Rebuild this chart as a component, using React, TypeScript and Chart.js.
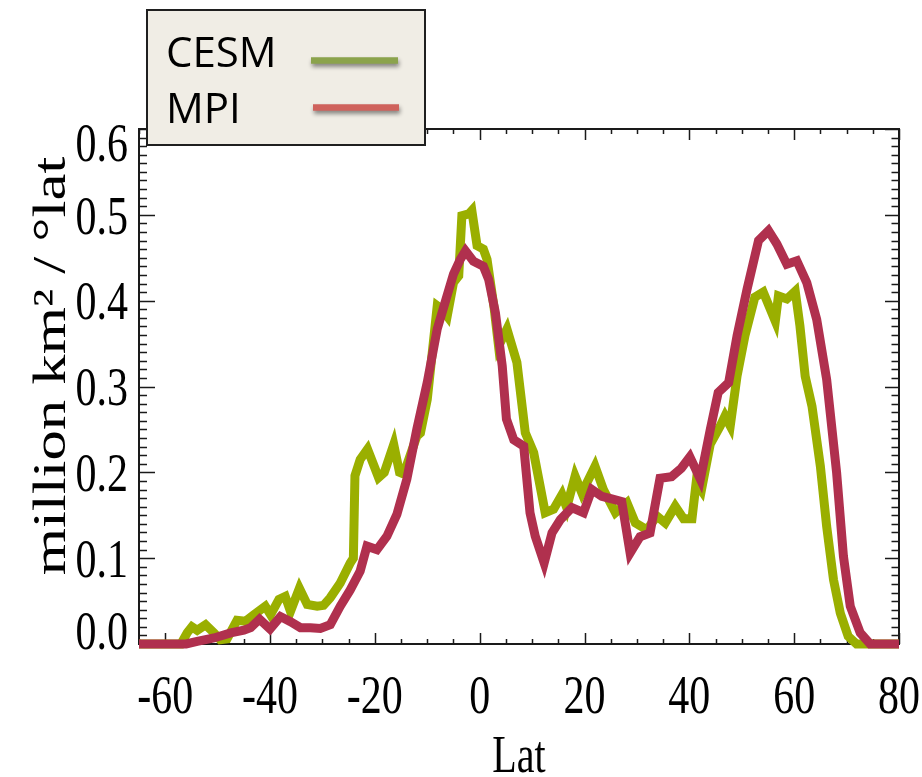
import React, { useEffect, useRef } from "react";
import { Chart, registerables } from "chart.js";

Chart.register(...registerables);

// ---------- data ----------
const seriesNames = ["CESM", "MPI"];

const cesmLat = [
  -65, -57, -55.8, -54.9, -53.9, -52.3, -50.7, -49.5, -48.2, -46.3, -44.7, -43.1, -40.9, -39.9,
  -38.3, -37.1, -36.1, -34.4, -32.9, -31, -29.8, -28.5, -26.6, -24.7, -24.1, -23.8, -22.8, -21.4,
  -19.3, -18.2, -16.4, -15.3, -14.5, -12, -11.3, -10, -8.1, -7.2, -6.2, -5, -4, -3.4, -2.1, -1.5,
  -0.5, 0.7, 1.4, 2.7, 3.6, 5.2, 7.1, 8.7, 10.3, 12.5, 14.1, 15.7, 16.6, 18.2, 19.5, 22, 23.6,
  25.9, 28.1, 29.7, 31.9, 33.8, 35.4, 37.3, 38.9, 40.5, 41.3, 42.3, 44, 45.9, 46.8, 47.8, 49.1,
  50.6, 52.5, 54.1, 56.4, 57, 58.6, 60.2, 61.1, 62.1, 63.4, 65, 66.2, 67.5, 68.8, 70.3, 71.9, 80,
];
const cesmVal = [
  0, 0, 0.013, 0.02, 0.016, 0.0225, 0.013, 0.005, 0.006, 0.0275, 0.0265, 0.034, 0.044, 0.034,
  0.052, 0.0555, 0.038, 0.065, 0.046, 0.044, 0.045, 0.054, 0.071, 0.0945, 0.1, 0.196, 0.215, 0.227,
  0.194, 0.2, 0.2325, 0.2, 0.198, 0.242, 0.246, 0.285, 0.394, 0.39, 0.382, 0.421, 0.429, 0.499,
  0.501, 0.505, 0.464, 0.46, 0.448, 0.394, 0.347, 0.367, 0.328, 0.246, 0.223, 0.153, 0.157, 0.174,
  0.159, 0.1955, 0.176, 0.207, 0.18, 0.153, 0.1645, 0.141, 0.133, 0.149, 0.141, 0.1605, 0.146,
  0.146, 0.188, 0.179, 0.233, 0.254, 0.2655, 0.254, 0.312, 0.359, 0.404, 0.41, 0.376, 0.4055,
  0.402, 0.411, 0.3705, 0.312, 0.277, 0.207, 0.137, 0.075, 0.036, 0.009, 0, 0,
];

const mpiLat = [
  -65, -56, -53.9, -50.7, -47.5, -45, -43.7, -42, -40, -38, -36.1, -34.2, -32.3, -30.4, -28.5,
  -26.6, -24.7, -22.8, -21.5, -19.6, -17.7, -15.8, -13.9, -12, -10, -8.1, -6.6, -5, -3.7, -2.7,
  -1.2, 0.7, 1.7, 3, 4.3, 5.1, 6.5, 8.4, 9.6, 10.6, 12.3, 13.8, 15.4, 17.6, 19.8, 21.4, 23.3,
  25.2, 27.1, 28.7, 30.6, 32.5, 34.4, 36.6, 38.5, 40.1, 42.1, 44, 45.5, 47.5, 49.1, 51, 53.2,
  55.1, 56.7, 58.6, 60.5, 62.4, 64.3, 66.2, 68.1, 69.4, 70.7, 72.6, 74.5, 80,
];
const mpiVal = [
  0, 0, 0.003, 0.007, 0.013, 0.016, 0.019, 0.029, 0.0175, 0.032, 0.026, 0.019, 0.019, 0.018,
  0.0225, 0.044, 0.063, 0.085, 0.114, 0.11, 0.1255, 0.151, 0.192, 0.25, 0.305, 0.367, 0.398,
  0.431, 0.448, 0.458, 0.446, 0.44, 0.425, 0.386, 0.324, 0.262, 0.238, 0.2305, 0.153, 0.1255,
  0.0945, 0.1295, 0.145, 0.159, 0.153, 0.18, 0.172, 0.169, 0.166, 0.106, 0.125, 0.1295, 0.193,
  0.195, 0.205, 0.218, 0.192, 0.25, 0.293, 0.3045, 0.359, 0.413, 0.47, 0.4815, 0.466, 0.4425,
  0.4465, 0.421, 0.378, 0.308, 0.1995, 0.102, 0.044, 0.013, 0, 0,
];

const xTickValues = [-60, -40, -20, 0, 20, 40, 60, 80];
const yTickValues = [0, 0.1, 0.2, 0.3, 0.4, 0.5, 0.6];
const xTitle = "Lat";
const yTitle = "million km\u00B2 / \u00B0lat";

// ---------- styling ----------
const CESM_COLOR = "#9aaf00";
const MPI_COLOR = "#b0304e";
const LEGEND_CESM = "#8ba34c";
const LEGEND_MPI = "#cf625c";
const SERIF = '"Liberation Serif", "Times New Roman", serif';
const STRETCH = 1.32;

const customPlugin = {
  id: "customAxes",
  beforeDatasetsDraw(chart: any) {
    const { ctx, chartArea: a, scales } = chart;
    const x = scales.x;
    const y = scales.y;
    ctx.save();
    ctx.strokeStyle = "#1a1a1a";
    ctx.lineWidth = 1.5;
    ctx.beginPath();
    for (let i = 0; i <= 60; i++) {
      const py = Math.round(y.getPixelForValue(i / 100)) + 0.5;
      const major = i % 10 === 0;
      const ll = major ? 16 : 8;
      const lr = major ? 14 : 7.5;
      ctx.moveTo(a.left, py);
      ctx.lineTo(a.left + ll, py);
      ctx.moveTo(a.right, py);
      ctx.lineTo(a.right - lr, py);
    }
    for (let v = -65; v <= 80; v += 5) {
      const px = Math.round(x.getPixelForValue(v)) + 0.5;
      const major = v % 20 === 0;
      const l = major ? 11 : 5;
      ctx.moveTo(px, a.bottom);
      ctx.lineTo(px, a.bottom - l);
      ctx.moveTo(px, a.top);
      ctx.lineTo(px, a.top + l);
    }
    ctx.stroke();
    ctx.lineWidth = 2;
    ctx.strokeRect(a.left, a.top, a.right - a.left, a.bottom - a.top);
    ctx.restore();
  },
  afterDraw(chart: any) {
    const { ctx, chartArea: a, scales } = chart;
    const x = scales.x;
    const y = scales.y;
    ctx.save();
    ctx.fillStyle = "#000";
    // y tick labels
    ctx.font = `42px ${SERIF}`;
    ctx.textAlign = "right";
    ctx.textBaseline = "alphabetic";
    const digitH = 0.676 * 42 * STRETCH;
    for (const v of yTickValues) {
      let cy = y.getPixelForValue(v);
      cy = Math.max(a.top + 13.5, Math.min(a.bottom - 13.5, cy));
      ctx.save();
      ctx.translate(128, cy + digitH / 2);
      ctx.scale(1, STRETCH);
      ctx.fillText(v.toFixed(1), 0, 0);
      ctx.restore();
    }
    // x tick labels
    ctx.textAlign = "center";
    for (const v of xTickValues) {
      ctx.save();
      ctx.translate(x.getPixelForValue(v), 713);
      ctx.scale(1, STRETCH);
      ctx.fillText(String(v), 0, 0);
      ctx.restore();
    }
    // x title
    ctx.font = `40px ${SERIF}`;
    ctx.save();
    ctx.translate((a.left + a.right) / 2, 772);
    ctx.scale(1, STRETCH);
    ctx.fillText(xTitle, 0, 0);
    ctx.restore();
    // y title
    ctx.font = `46px ${SERIF}`;
    ctx.save();
    ctx.translate(65, 366);
    ctx.rotate(-Math.PI / 2);
    ctx.scale(STRETCH, 1);
    ctx.fillText(yTitle, 0, 0);
    ctx.restore();

    // legend box
    ctx.fillStyle = "#f0ede5";
    ctx.fillRect(147, 10, 278, 135);
    ctx.strokeStyle = "#1f1f1f";
    ctx.lineWidth = 2;
    ctx.strokeRect(147, 10, 278, 135);
    ctx.fillStyle = "#000";
    ctx.textAlign = "left";
    ctx.font = `42px "Open Sans", "Noto Sans", sans-serif`;
    ctx.fillText(seriesNames[0], 166, 66.5);
    ctx.fillText(seriesNames[1], 166, 122.5);
    const legendLine = (x0: number, x1: number, yy: number, color: string) => {
      ctx.save();
      ctx.shadowColor = "rgba(0,0,0,0.45)";
      ctx.shadowBlur = 4;
      ctx.shadowOffsetY = 3;
      ctx.shadowOffsetX = 1;
      ctx.strokeStyle = color;
      ctx.lineWidth = 6.5;
      ctx.lineCap = "butt";
      ctx.beginPath();
      ctx.moveTo(x0, yy);
      ctx.lineTo(x1, yy);
      ctx.stroke();
      ctx.restore();
    };
    legendLine(311, 398, 60.5, LEGEND_CESM);
    legendLine(313, 399, 107.5, LEGEND_MPI);
    ctx.restore();
  },
};

export default function App() {
  const ref = useRef<HTMLCanvasElement | null>(null);
  useEffect(() => {
    if (!ref.current) return;
    const chart = new Chart(ref.current, {
      type: "scatter",
      data: {
        datasets: [
          {
            label: seriesNames[1],
            data: mpiLat.map((v, i) => ({ x: v, y: mpiVal[i] })),
            showLine: true,
            borderColor: MPI_COLOR,
            backgroundColor: MPI_COLOR,
            borderWidth: 9,
            pointRadius: 0,
            tension: 0,
            clip: false as any,
            order: 0,
          },
          {
            label: seriesNames[0],
            data: cesmLat.map((v, i) => ({ x: v, y: cesmVal[i] })),
            showLine: true,
            borderColor: CESM_COLOR,
            backgroundColor: CESM_COLOR,
            borderWidth: 9,
            pointRadius: 0,
            tension: 0,
            clip: false as any,
            order: 1,
          },
        ],
      },
      options: {
        animation: false,
        responsive: false,
        devicePixelRatio: 1,
        layout: { padding: { left: 139, right: 23, top: 129, bottom: 133 } },
        plugins: { legend: { display: false }, tooltip: { enabled: false } },
        scales: {
          x: { type: "linear", min: -65, max: 80, display: false },
          y: { type: "linear", min: 0, max: 0.6, display: false },
        },
      },
      plugins: [customPlugin],
    });
    return () => chart.destroy();
  }, []);
  return (
    <div style={{ position: "absolute", left: 0, top: 0, width: 922, height: 777, background: "#fff" }}>
      <canvas ref={ref} width={922} height={777} style={{ display: "block" }} />
    </div>
  );
}
